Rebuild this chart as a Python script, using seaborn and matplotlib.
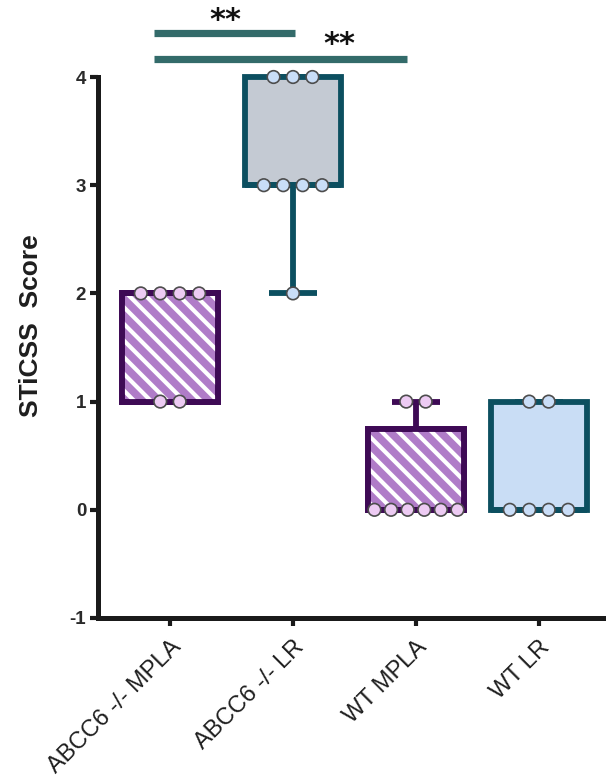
import numpy as np
import pandas as pd
import matplotlib
matplotlib.use("Agg")
import matplotlib.pyplot as plt
from matplotlib.patches import PathPatch
import seaborn as sns

# ---- data -------------------------------------------------------------
groups = ["ABCC6 -/- MPLA", "ABCC6 -/- LR", "WT MPLA", "WT LR"]
scores_abcc6_mpla = [2, 2, 2, 2, 1, 1]
scores_abcc6_lr = [4, 4, 4, 3, 3, 3, 3, 2]
scores_wt_mpla = [1, 1, 0, 0, 0, 0, 0, 0]
scores_wt_lr = [1, 1, 0, 0, 0, 0]
y_ticks = [-1, 0, 1, 2, 3, 4]
y_label = "STiCSS  Score"

# significance brackets: (start, end) along the category axis, height, label
sig_spans = [(-0.13, 1.02), (-0.13, 1.93)]
sig_heights = [4.41, 4.17]
sig_label_pos = [(0.45, 4.44), (1.38, 4.22)]
sig_labels = ["**", "**"]

# ---- styling ----------------------------------------------------------
edge_colors = ["#3E0A55", "#0C4F60", "#3E0A55", "#0C4F60"]
face_colors = ["#B07CC8", "#C4CAD3", "#B07CC8", "#C9DDF5"]
hatched = [True, False, True, False]
point_colors = ["#EDCBF3", "#C9DDF7", "#EDCBF3", "#C9DDF7"]
sig_color = "#336B6A"

sns.set_style("ticks")
plt.rcParams["font.family"] = ["Liberation Sans", "DejaVu Sans"]
plt.rcParams["hatch.linewidth"] = 3.0
plt.rcParams["hatch.color"] = "white"

all_scores = [scores_abcc6_mpla, scores_abcc6_lr, scores_wt_mpla, scores_wt_lr]

fig = plt.figure(figsize=(6.06, 7.82), dpi=100)
ax = fig.add_axes([98 / 606, (782 - 618) / 782, (606 - 98) / 606, (618 - 77) / 782])

# ---- boxes (quartiles by the (n+1) method) -----------------------------
stats = []
for g, s in zip(groups, all_scores):
    q1, med, q3 = np.percentile(s, [25, 50, 75], method="weibull")
    stats.append(dict(label=g, q1=q1, med=med, q3=q3,
                      whislo=min(s), whishi=max(s), fliers=[]))

positions = np.arange(len(groups))
art = ax.bxp(stats, positions=positions, widths=0.78, patch_artist=True,
             showfliers=False, manage_ticks=False)

for i in range(len(groups)):
    box = art["boxes"][i]
    box.set_facecolor(face_colors[i])
    box.set_edgecolor(edge_colors[i])
    box.set_linewidth(4.2)
    box.set_joinstyle("miter")
    box.set_clip_on(False)
    box.set_zorder(2)
    for ln in art["whiskers"][2 * i:2 * i + 2] + art["caps"][2 * i:2 * i + 2]:
        ln.set_color(edge_colors[i])
        ln.set_linewidth(4.2)
        ln.set_solid_capstyle("butt")
        ln.set_clip_on(False)
        ln.set_zorder(1.9)
    med = art["medians"][i]
    med.set_color(edge_colors[i])
    med.set_linewidth(4.2)
    med.set_solid_capstyle("butt")
    med.set_clip_on(False)
    med.set_zorder(2.3)
    if hatched[i]:
        path = box.get_path()
        ax.add_patch(PathPatch(path, facecolor="none", edgecolor="white",
                               linewidth=0, hatch="\\\\", zorder=2.1))
        ax.add_patch(PathPatch(path, facecolor="none", edgecolor=edge_colors[i],
                               linewidth=4.2, joinstyle="miter", zorder=2.2,
                               clip_on=False))

# ---- points: rows of dots centred on each group ------------------------
rows = []
for gi, (g, s) in enumerate(zip(groups, all_scores)):
    for v in sorted(set(s), reverse=True):
        n = s.count(v)
        step = min(0.158, 0.675 / (n - 1)) if n > 1 else 0.0
        for k in range(n):
            rows.append({"group": g, "score": v,
                         "xpos": gi + (k - (n - 1) / 2) * step})
pts = pd.DataFrame(rows)

sns.scatterplot(data=pts, x="xpos", y="score", hue="group", hue_order=groups,
                palette=point_colors, s=82, edgecolor="#4d4d4d", linewidth=1.2,
                legend=False, zorder=5, clip_on=False, ax=ax)

# ---- significance brackets --------------------------------------------
for (x0, x1), h in zip(sig_spans, sig_heights):
    ax.plot([x0, x1], [h, h], color=sig_color, linewidth=5.2,
            solid_capstyle="butt", clip_on=False)
for (tx, ty), lab in zip(sig_label_pos, sig_labels):
    ax.text(tx, ty, lab, ha="center", va="baseline", fontsize=22,
            family="DejaVu Sans", fontweight="bold", color="#111111",
            clip_on=False)

# ---- axes --------------------------------------------------------------
ax.set_xlim(-0.585, 3.545)
ax.set_ylim(-1, 4)
ax.set_yticks(y_ticks)
ax.set_yticklabels([str(t) for t in y_ticks], fontsize=13.5, fontweight="bold",
                   color="#2a2a2a")
ax.set_xticks(positions)
ax.set_xticklabels(groups, rotation=45, ha="right", rotation_mode="anchor",
                   fontsize=17, color="#1e1e1e")
ax.set_xlabel("")
ax.set_ylabel(y_label, fontsize=19, fontweight="bold", color="#1e1e1e")
ax.yaxis.set_label_coords(-0.108, 0.54)

for side in ["top", "right"]:
    ax.spines[side].set_visible(False)
for side in ["left", "bottom"]:
    ax.spines[side].set_linewidth(3.6)
    ax.spines[side].set_color("#1a1a1a")
ax.tick_params(axis="both", direction="out", length=6, width=3, color="#1a1a1a")
ax.tick_params(axis="y", pad=2.5)
ax.tick_params(axis="x", pad=7)
ax.set_facecolor("none")

fig.savefig("out.png", dpi=100)
